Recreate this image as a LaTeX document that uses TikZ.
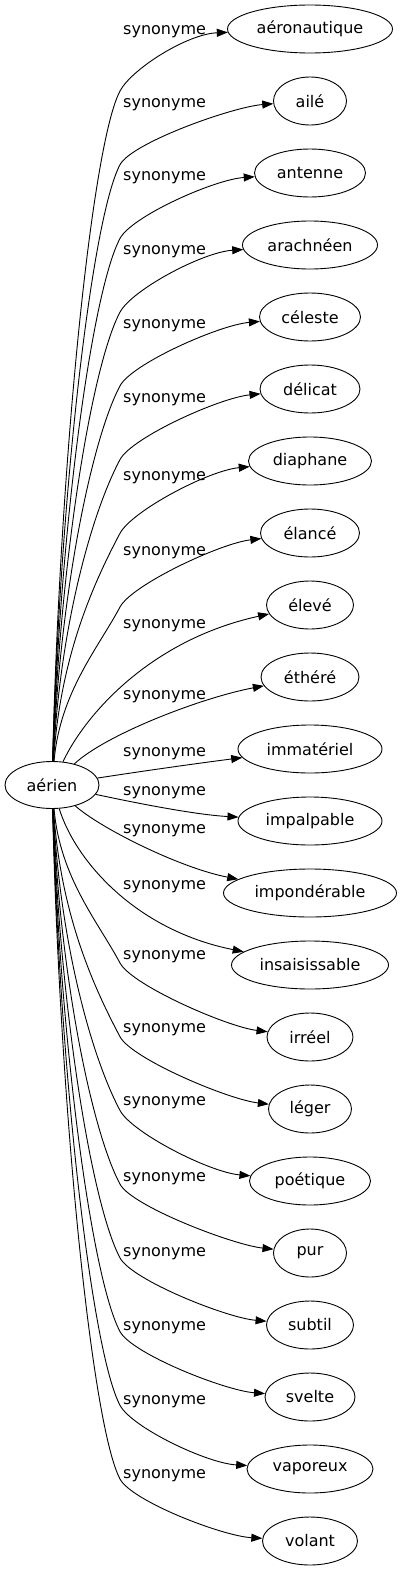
\documentclass[tikz,border=0pt]{standalone}
\usepackage{fontspec}
\setmainfont{DejaVu Sans}
\usetikzlibrary{arrows.meta,calc,shapes.geometric}
\begin{document}
\begin{tikzpicture}[x=1pt,y=-1pt,
  font=\fontsize{16}{19}\selectfont,
  tgt/.style={ellipse, draw, line width=0.9pt, inner sep=0pt, minimum height=48pt},
  lbl/.style={inner sep=0pt, anchor=west},
  edge/.style={line width=0.9pt, -{Triangle[length=11pt,width=8pt]}}]
\fill[white] (0,0) rectangle (402,1571);
\useasboundingbox (0,0) rectangle (402,1571);
\node[tgt, minimum width=94pt, minimum height=47pt] (root) at (52,785) {aérien};
\foreach \i/\t/\w in {0/aéronautique/165, 1/ailé/73, 2/antenne/111, 3/arachnéen/135,
  4/céleste/101, 5/délicat/100, 6/diaphane/123, 7/élancé/99, 8/élevé/87, 9/éthéré/98,
  10/immatériel/144, 11/impalpable/144, 12/impondérable/173, 13/insaisissable/157,
  14/irréel/86, 15/léger/83, 16/poétique/121, 17/pur/73, 18/subtil/87, 19/svelte/90,
  20/vaporeux/126, 21/volant/95}{
  \node[tgt, minimum width=\w] (t\i) at (310,{29+72*\i}) {\t};
}
\foreach \i/\y in {0/32, 1/105, 2/178, 3/252, 4/326, 5/400, 6/478, 7/553, 8/626, 9/697,
  10/754, 11/793, 12/831, 13/887, 14/957, 15/1030, 16/1103, 17/1179, 18/1254, 19/1328,
  20/1402, 21/1476}{
  \node[lbl] (l\i) at (123,\y) {synonyme};
}
\foreach \i in {0,...,7,14,15,...,21}{
  \pgfmathsetmacro\qyT{29+72*\i}
  \pgfmathsetmacro\qs{(785-\qyT>0) ? 1 : -1}
  \pgfmathsetmacro\qa{abs(785-\qyT)}
  \pgfmathsetmacro\qm{62+18*(1-\qa/756)}
  \pgfmathsetmacro\qyM{\qyT+\qs*\qm}
  \pgfmathsetmacro\qyO{785-\qs*23}
  \pgfmathsetmacro\qH{abs(\qyO-\qyM)}
  \pgfmathsetmacro\qL{min(0.3*\qH,60)}
  \pgfmathsetmacro\qyA{\qyO-\qs*0.45*\qH}
  \pgfmathsetmacro\qxB{120-\qL*cos(62)}
  \pgfmathsetmacro\qyB{\qyM+\qs*\qL*sin(62)}
  \pgfmathsetmacro\qxC{120+25*cos(62)}
  \pgfmathsetmacro\qyC{\qyM-\qs*25*sin(62)}
  \pgfmathsetmacro\qo{\qs*(5+8*(1-\qa/756))}
  \draw[edge] (root) .. controls (60,\qyA) and (\qxB,\qyB) .. (120,\qyM)
     .. controls (\qxC,\qyC) and ($(t\i.west)+(-40,\qo)$) .. (t\i);
}
\draw[edge] (root) .. controls (85,715) and (150,640) .. (t8);
\draw[edge] (root) .. controls (105,735) and (200,698) .. (t9);
\draw[edge] (root) .. controls (150,770) and (200,763) .. (t10);
\draw[edge] (root) .. controls (150,806) and (200,815) .. (t11);
\draw[edge] (root) .. controls (100,828) and (180,868) .. (t12);
\draw[edge] (root) .. controls (75,860) and (135,930) .. (t13);
\end{tikzpicture}
\end{document}
